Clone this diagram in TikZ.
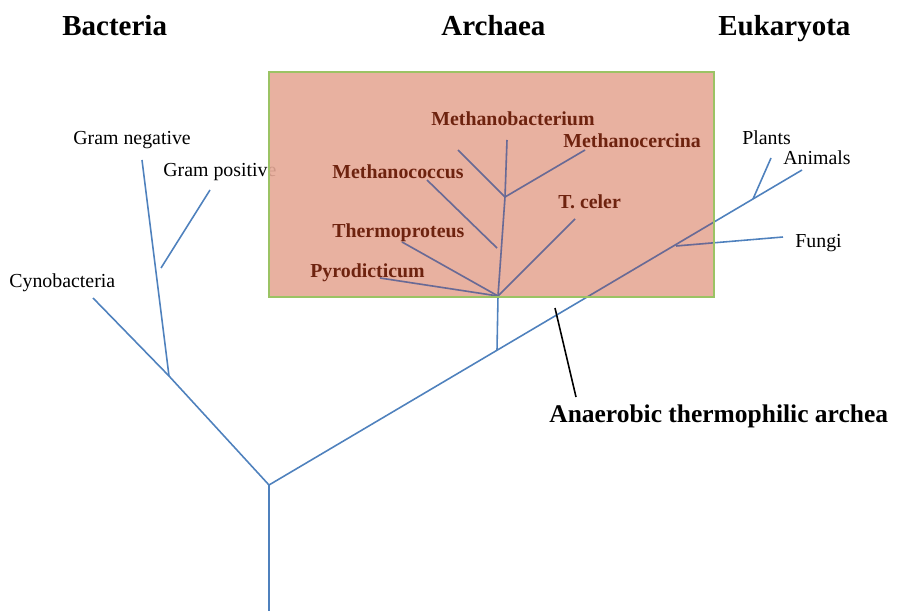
\documentclass[tikz,border=0pt]{standalone}
\usepackage{fontspec}
\setmainfont{Liberation Serif}
\definecolor{treeblue}{RGB}{79,129,189}
\definecolor{treeslate}{RGB}{104,106,150}
\definecolor{boxfill}{RGB}{229,168,150}
\definecolor{boxedge}{RGB}{155,195,100}
\definecolor{archred}{RGB}{110,35,15}
\newcommand{\treelines}{%
  \draw[branch] (base) -- (root) -- (euk);
  \draw[branch] (root) -- (bac) -- (cyno);
  \draw[branch] (bac) -- (gneg);
  \draw[branch] (gposroot) -- (gpos);
  \draw[branch] (arcroot) -- (arc) -- (mbjoin) -- (mbac);
  \draw[branch] (mbjoin) -- (mbleft);
  \draw[branch] (mbjoin) -- (mcer);
  \draw[branch] (mcocroot) -- (mcoc);
  \draw[branch] (arc) -- (tcel);
  \draw[branch] (arc) -- (thermo);
  \draw[branch] (arc) -- (pyro);
  \draw[branch] (plantroot) -- (plant);
  \draw[branch] (fungiroot) -- (fungi);
}
\begin{document}
\begin{tikzpicture}[x=0.02cm, y=-0.02cm,
  branch/.style={line width=0.9pt},
  taxon/.style={anchor=base west, inner sep=0pt, font=\fontsize{11.3}{13}\selectfont},
  archtaxon/.style={anchor=base west, inner sep=0pt, text=archred, font=\fontsize{11.3}{13}\selectfont\bfseries},
  domainlabel/.style={anchor=base west, inner sep=0pt, font=\fontsize{16.5}{19}\selectfont\bfseries}]
  \useasboundingbox (0,0) rectangle (898,611);
  % branch points and tips
  \coordinate (base) at (269,611);
  \coordinate (root) at (269,485);
  \coordinate (euk) at (802,170);
  \coordinate (bac) at (169,376);
  \coordinate (cyno) at (93,298);
  \coordinate (gneg) at (142,160);
  \coordinate (gposroot) at (161,268);
  \coordinate (gpos) at (210,190);
  \coordinate (arcroot) at (497,350);
  \coordinate (arc) at (498,296);
  \coordinate (mbjoin) at (505,197);
  \coordinate (mbac) at (507,140);
  \coordinate (mbleft) at (458,150);
  \coordinate (mcer) at (585,150);
  \coordinate (mcocroot) at (497,248);
  \coordinate (mcoc) at (427,180);
  \coordinate (tcel) at (575,219);
  \coordinate (thermo) at (402,242);
  \coordinate (pyro) at (380,278);
  \coordinate (plantroot) at (753,199);
  \coordinate (plant) at (771,158);
  \coordinate (fungiroot) at (676,246);
  \coordinate (fungi) at (783,237);
  \coordinate (leadtop) at (555,308);
  \coordinate (leadend) at (576,397);

  \begin{scope}[draw=treeblue]
    \treelines
  \end{scope}

  \node[domainlabel] (bacteria) at (62,36) {Bacteria};
  \node[domainlabel] (archaea) at (441,36) {Archaea};
  \node[domainlabel] (eukaryota) at (718,36) {Eukaryota};
  \node[taxon] (gneglabel) at (73,145) {Gram negative};
  \node[taxon] (gposlabel) at (163,176) {Gram positive};
  \node[taxon] (cynolabel) at (9,287) {Cynobacteria};

  % archaea box
  \fill[boxfill, fill opacity=0.9] (269,72) rectangle (714,297);
  \begin{scope}[draw=treeslate]
    \clip (269,72) rectangle (714,297);
    \treelines
  \end{scope}
  \draw[boxedge, line width=1.5pt] (269,72) rectangle (714,297);

  \node[archtaxon] (mbaclabel) at (431,126) {Methanobacterium};
  \node[archtaxon] (mcerlabel) at (563,148) {Methanocercina};
  \node[archtaxon] (mcoclabel) at (332,178) {Methanococcus};
  \node[archtaxon] (tcellabel) at (558,208) {T. celer};
  \node[archtaxon] (thermolabel) at (332,237) {Thermoproteus};
  \node[archtaxon] (pyrolabel) at (310,277) {Pyrodicticum};

  \node[taxon] (plantlabel) at (742,145) {Plants};
  \node[taxon] (animallabel) at (783,165) {Animals};
  \node[taxon] (fungilabel) at (795,247) {Fungi};

  \draw[line width=0.9pt] (leadtop) -- (leadend);
  \node[anchor=base west, inner sep=0pt, font=\fontsize{14.5}{17}\selectfont\bfseries] (anaerobic) at (549,422) {Anaerobic thermophilic archea};
\end{tikzpicture}
\end{document}
